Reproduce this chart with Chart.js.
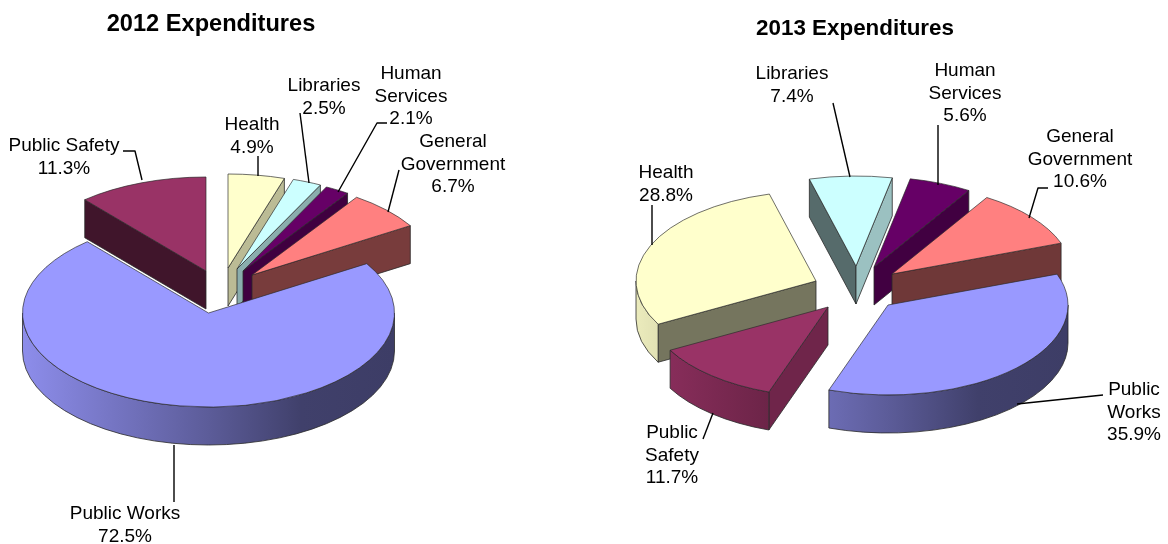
<!DOCTYPE html>
<html>
<head>
<meta charset="utf-8">
<script src="https://cdn.jsdelivr.net/npm/chart.js@4"></script>
<style>
  html, body { margin: 0; background: #fff; }
  #page { position: relative; width: 1168px; height: 544px; overflow: hidden; }
  canvas { position: absolute; top: 0; }
  #left { left: 0; }
  #right { left: 584px; }
</style>
</head>
<body>
<div id="page">
  <canvas id="left" width="584" height="544"></canvas>
  <canvas id="right" width="584" height="544"></canvas>
</div>
<script>
// same clockwise order in both years
const categories = ["Health", "Libraries", "Human Services", "General Government", "Public Works", "Public Safety"];
const values2012 = [4.9, 2.5, 2.1, 6.7, 72.5, 11.3];
const values2013 = [28.8, 7.4, 5.6, 10.6, 35.9, 11.7];
const colors = ["#FFFFCC", "#CCFFFF", "#660066", "#FF8080", "#9999FF", "#993366"];

// how the names wrap on each pie
const names2012 = [["Health"], ["Libraries"], ["Human", "Services"], ["General", "Government"], ["Public Works"], ["Public Safety"]];
const names2013 = [["Health"], ["Libraries"], ["Human", "Services"], ["General", "Government"], ["Public", "Works"], ["Public", "Safety"]];

const FONT = '"Liberation Sans", Arial, sans-serif';
const DEPTH = 38;

const pie2012 = {
  canvas: "left", originX: 0, values: values2012, names: names2012,
  title: "2012 Expenditures", titleX: 211, titleY: 24, titleSize: 23.6,
  rotation: 0, radius: 186, tilt: 94 / 186,
  // page position of each slice's tip
  tips: [[228, 268], [237, 269], [243, 271], [252, 275], [208.5, 313], [206, 271]],
  labels: [[252, 125], [324, 86], [411, 74], [453, 142], [125, 514], [64, 146]],
  leaders: [
    [[258, 156], [258, 176]],
    [[300, 113], [309, 183]],
    [[387, 123], [377, 123], [338, 192]],
    [[399, 170], [388, 212]],
    [[174, 445], [174, 502]],
    [[123, 151], [135, 151], [142, 180]]
  ]
};

const pie2013 = {
  canvas: "right", originX: 584, values: values2013, names: names2013,
  title: "2013 Expenditures", titleX: 855, titleY: 29, titleSize: 22.4,
  rotation: -118.7, radius: 180, tilt: 0.5,
  tips: [[816, 281], [856, 266], [874, 267], [892, 274], [888, 305], [828, 307]],
  labels: [[666, 173], [792, 74], [965, 71], [1080, 137], [1134, 390], [672, 433]],
  leaders: [
    [[652, 205], [652, 245]],
    [[833, 103], [850, 177]],
    [[938, 125], [938, 185]],
    [[1048, 188], [1038, 188], [1029, 218]],
    [[1017, 404], [1103, 395]],
    [[703, 439], [713, 413]]
  ]
};

function shade(hex, s) {
  const n = parseInt(hex.slice(1), 16);
  const r = Math.round(((n >> 16) & 255) * s);
  const g = Math.round(((n >> 8) & 255) * s);
  const b = Math.round((n & 255) * s);
  return "rgb(" + r + "," + g + "," + b + ")";
}

// flat cut face of a slice, brighter when it looks to the right
function drawFace(ctx, x, y, rx, ry, angle, nx, color) {
  const s = 0.42 + 0.36 * Math.pow(Math.max(0, nx), 3);
  ctx.beginPath();
  ctx.moveTo(x, y);
  ctx.lineTo(x + rx * Math.cos(angle), y + ry * Math.sin(angle));
  ctx.lineTo(x + rx * Math.cos(angle), y + ry * Math.sin(angle) + DEPTH);
  ctx.lineTo(x, y + DEPTH);
  ctx.closePath();
  ctx.fillStyle = shade(color, s);
  ctx.fill();
  ctx.stroke();
}

function drawRim(ctx, x, y, rx, ry, start, end, color) {
  const grad = ctx.createLinearGradient(x - rx, 0, x + rx, 0);
  grad.addColorStop(0, shade(color, 0.92));
  grad.addColorStop(0.5, shade(color, 0.6));
  grad.addColorStop(0.75, shade(color, 0.42));
  grad.addColorStop(1, shade(color, 0.4));
  for (let k = -2; k <= 2; k++) {
    // only the lower half of the ellipse faces the viewer
    const a0 = Math.max(start, k * 2 * Math.PI);
    const a1 = Math.min(end, k * 2 * Math.PI + Math.PI);
    if (a1 <= a0) continue;
    ctx.beginPath();
    ctx.ellipse(x, y, rx, ry, 0, a0, a1);
    ctx.ellipse(x, y + DEPTH, rx, ry, 0, a1, a0, true);
    ctx.closePath();
    ctx.fillStyle = grad;
    ctx.fill();
    ctx.stroke();
  }
}

function drawLabels(ctx, pie) {
  ctx.fillStyle = "#000";
  ctx.textAlign = "center";
  ctx.textBaseline = "middle";
  ctx.font = "bold " + pie.titleSize + "px " + FONT;
  ctx.fillText(pie.title, pie.titleX, pie.titleY);

  ctx.font = "19px " + FONT;
  pie.names.forEach((lines, i) => {
    const rows = lines.concat(pie.values[i].toFixed(1) + "%");
    rows.forEach((row, j) => {
      ctx.fillText(row, pie.labels[i][0], pie.labels[i][1] + j * 22.3);
    });
  });

  ctx.strokeStyle = "#000";
  ctx.lineWidth = 1.4;
  pie.leaders.forEach((pts) => {
    ctx.beginPath();
    pts.forEach((p, j) => (j ? ctx.lineTo(p[0], p[1]) : ctx.moveTo(p[0], p[1])));
    ctx.stroke();
  });
}

function makePie(pie) {
  const tiltPlugin = {
    id: "tilt",
    beforeDatasetDraw(chart, args) {
      const ctx = chart.ctx;
      const arcs = args.meta.data;
      // back slices first
      const order = arcs.map((a, i) => i).sort((a, b) => pie.tips[a][1] - pie.tips[b][1]);
      ctx.save();
      ctx.translate(-pie.originX, 0);
      order.forEach((i) => {
        const arc = arcs[i];
        const x = pie.tips[i][0], y = pie.tips[i][1];
        const rx = arc.outerRadius, ry = rx * pie.tilt;
        ctx.strokeStyle = "#2a2a2a";
        ctx.lineWidth = 0.8;
        ctx.lineJoin = "round";
        if (Math.cos(arc.startAngle) < 0) drawFace(ctx, x, y, rx, ry, arc.startAngle, Math.sin(arc.startAngle), colors[i]);
        if (Math.cos(arc.endAngle) > 0) drawFace(ctx, x, y, rx, ry, arc.endAngle, -Math.sin(arc.endAngle), colors[i]);
        drawRim(ctx, x, y, rx, ry, arc.startAngle, arc.endAngle, colors[i]);
        // the top itself is the library's arc, squashed
        ctx.save();
        ctx.translate(x, y);
        ctx.scale(1, pie.tilt);
        ctx.translate(-arc.x, -arc.y);
        arc.draw(ctx);
        ctx.restore();
      });
      drawLabels(ctx, pie);
      ctx.restore();
      return false;
    }
  };

  new Chart(document.getElementById(pie.canvas), {
    type: "pie",
    data: {
      labels: categories,
      datasets: [{
        data: pie.values,
        backgroundColor: colors,
        borderColor: "#2a2a2a",
        borderWidth: 0.9
      }]
    },
    options: {
      responsive: false,
      animation: false,
      rotation: pie.rotation,
      radius: pie.radius,
      plugins: {
        legend: { display: false },
        title: { display: false },
        tooltip: { enabled: false }
      }
    },
    plugins: [tiltPlugin]
  });
}

makePie(pie2012);
makePie(pie2013);
</script>
</body>
</html>
